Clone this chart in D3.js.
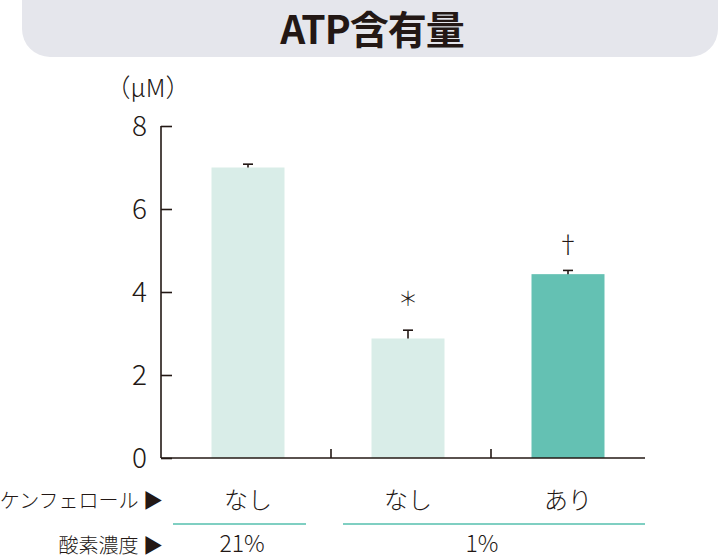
<!DOCTYPE html>
<html>
<head>
<meta charset="utf-8">
<script src="https://cdn.jsdelivr.net/npm/d3@7"></script>
<style>
    body { margin: 0; background: #fff; }
    text { font-family: "Noto Sans CJK JP", "Noto Sans", sans-serif; fill: #231815; }
</style>
</head>
<body>
<div id="chart"></div>
<script>
// Chart data
var groups = ['g1', 'g2', 'g3'];
var kaempferol = ['なし', 'なし', 'あり'];
var values = [7.0, 2.88, 4.43];
var errors = [0.08, 0.2, 0.09];
var marks = ['', '＊', '†'];
var yTicks = [0, 2, 4, 6, 8];
var oxygen = [
    {label: '21%', from: 0, to: 0},
    {label: '1%', from: 1, to: 2}
];

var width = 720, height = 560;
var ink = '#231815';

var svg = d3.select('#chart').append('svg')
    .attr('width', width)
    .attr('height', height);

// Title pill
svg.append('rect')
    .attr('x', 22)
    .attr('y', -30)
    .attr('width', 696)
    .attr('height', 87)
    .attr('rx', 28)
    .attr('ry', 28)
    .style('fill', '#e5e6ec');

svg.append('text')
    .attr('x', 372)
    .attr('y', 44)
    .attr('text-anchor', 'middle')
    .style('font-size', '39px')
    .style('font-weight', 'bold')
    .style('letter-spacing', '-1px')
    .text('ATP含有量');

var x = d3.scaleBand()
    .domain(groups)
    .range([168, 648]);

var y = d3.scaleLinear()
    .domain([0, 8])
    .range([458, 126]);

var axisLeft = 161, axisRight = 645;
var barWidth = 73;
var colors = ['#d9ede8', '#d9ede8', '#64c1b3'];

function cx(d) { return x(d) + x.bandwidth() / 2; }

// Bars
svg.append('g').selectAll('rect')
    .data(groups)
    .enter().append('rect')
    .attr('x', function (d) { return cx(d) - barWidth / 2; })
    .attr('y', function (d, i) { return y(values[i]); })
    .attr('width', barWidth)
    .attr('height', function (d, i) { return y(0) - y(values[i]); })
    .style('fill', function (d, i) { return colors[i]; });

// Error bars (upper only)
var err = svg.append('g')
    .style('stroke', ink)
    .style('stroke-width', 1.6);

groups.forEach(function (d, i) {
    err.append('line')
        .attr('x1', cx(d)).attr('x2', cx(d))
        .attr('y1', y(values[i])).attr('y2', y(values[i] + errors[i]));
    err.append('line')
        .attr('x1', cx(d) - 5).attr('x2', cx(d) + 5)
        .attr('y1', y(values[i] + errors[i])).attr('y2', y(values[i] + errors[i]));
});

// Significance marks
svg.append('g').selectAll('text')
    .data(groups)
    .enter().append('text')
    .attr('x', cx)
    .attr('y', function (d, i) { return y(values[i] + errors[i]) - (i === 1 ? 24 : 17); })
    .attr('text-anchor', 'middle')
    .style('font-size', function (d, i) { return i === 1 ? '20px' : '24px'; })
    .style('font-weight', 300)
    .text(function (d, i) { return marks[i]; });

// Y axis
var yAxis = d3.axisRight(y)
    .tickValues(yTicks)
    .tickSize(11)
    .tickFormat('');

var yg = svg.append('g')
    .attr('transform', 'translate(' + axisLeft + ',0)')
    .call(yAxis);
yg.select('.domain').remove();
yg.selectAll('.tick line').style('stroke', ink).style('stroke-width', 1.6);
yg.append('line')
    .attr('x1', 0).attr('x2', 0)
    .attr('y1', y(8)).attr('y2', y(0))
    .style('stroke', ink).style('stroke-width', 1.6);

svg.append('g').selectAll('text')
    .data(yTicks)
    .enter().append('text')
    .attr('x', 147)
    .attr('y', function (d) { return y(d) + 10; })
    .attr('text-anchor', 'end')
    .style('font-size', '28px')
    .style('font-weight', 300)
    .text(function (d) { return d; });

svg.append('text')
    .attr('x', 148)
    .attr('y', 97)
    .attr('text-anchor', 'middle')
    .style('font-size', '25px')
    .style('font-weight', 300)
    .text('（μM）');

// X axis
svg.append('line')
    .attr('x1', axisLeft).attr('x2', axisRight)
    .attr('y1', y(0)).attr('y2', y(0))
    .style('stroke', ink).style('stroke-width', 1.6);

svg.append('g').selectAll('line')
    .data(groups.slice(1))
    .enter().append('line')
    .attr('x1', function (d) { return x(d) + 3; })
    .attr('x2', function (d) { return x(d) + 3; })
    .attr('y1', y(0)).attr('y2', y(0) - 9)
    .style('stroke', ink).style('stroke-width', 1.6);

// Category rows
svg.append('text')
    .attr('x', 163).attr('y', 508)
    .attr('text-anchor', 'end')
    .style('font-size', '20px')
    .style('font-weight', 300)
    .text('ケンフェロール ▶');

svg.append('g').selectAll('text')
    .data(groups)
    .enter().append('text')
    .attr('x', cx)
    .attr('y', 509)
    .attr('text-anchor', 'middle')
    .style('font-size', '24px')
    .style('font-weight', 300)
    .text(function (d, i) { return kaempferol[i]; });

function lineStart(d) { return x(groups[d.from]) + (d.from === 0 ? 5 : 15); }
function lineEnd(d) { return d.to === 2 ? axisRight : x(groups[d.to]) + x.bandwidth() - 22; }

svg.append('g').selectAll('line')
    .data(oxygen)
    .enter().append('line')
    .attr('x1', lineStart)
    .attr('x2', lineEnd)
    .attr('y1', 524).attr('y2', 524)
    .style('stroke', '#7fcfc2').style('stroke-width', 2);

svg.append('text')
    .attr('x', 163).attr('y', 553)
    .attr('text-anchor', 'end')
    .style('font-size', '20px')
    .style('font-weight', 300)
    .text('酸素濃度 ▶');

svg.append('g').selectAll('text')
    .data(oxygen)
    .enter().append('text')
    .attr('x', function (d) { return (cx(groups[d.from]) + cx(groups[d.to])) / 2 - 6; })
    .attr('y', 552)
    .attr('text-anchor', 'middle')
    .style('font-size', '23px')
    .style('font-weight', 300)
    .text(function (d) { return d.label; });
</script>
</body>
</html>
